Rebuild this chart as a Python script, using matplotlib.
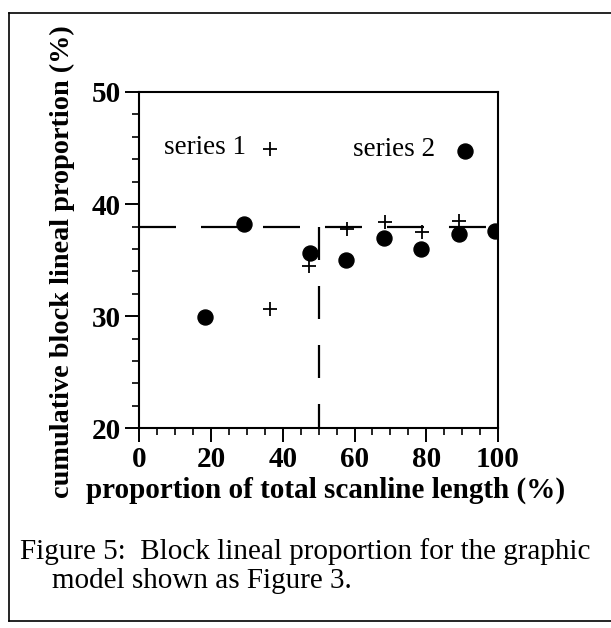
import matplotlib
matplotlib.use("Agg")
import matplotlib.pyplot as plt
from matplotlib.lines import Line2D

# data
s1_x = [36.5, 47.2, 57.9, 68.5, 78.9, 89.1]
s1_y = [30.6, 34.5, 37.8, 38.4, 37.5, 38.5]
s2_x = [18.4, 29.1, 47.5, 57.6, 68.2, 78.4, 89.1, 99.3]
s2_y = [29.9, 38.2, 35.6, 35.0, 37.0, 36.0, 37.3, 37.6]
ref_level = 38
ref_x = 50
x_ticks = [0, 20, 40, 60, 80, 100]
y_ticks = [20, 30, 40, 50]
legend_keys = [("series 1", 36.3, 44.9, "+"), ("series 2", 90.9, 44.7, "o")]

W, H = 611, 628
fig = plt.figure(figsize=(W/100, H/100), dpi=100)
serif = "Liberation Serif"

L, R, T, B = 139.3, 498.0, 92.0, 428.3
ax = fig.add_axes([L/W, 1 - B/H, (R-L)/W, (B-T)/H])
ax.set_xlim(0, 100)
ax.set_ylim(20, 50)

# dashed reference lines
lw = 1.6
ax.plot([0, 100], [ref_level, ref_level], color="black", lw=lw,
        linestyle=(0, (37/1.389/lw, 25/1.389/lw)), zorder=2)
ax.plot([ref_x, ref_x], [ref_level, 20], color="black", lw=lw,
        linestyle=(0, (33/1.389/lw, 26/1.389/lw)), zorder=2)

ax.plot(s1_x, s1_y, linestyle="none", marker="+", ms=10, mew=1.3, color="black", zorder=3)
ax.plot(s2_x, s2_y, linestyle="none", marker="o", ms=10.8, color="black", zorder=3)

for label, lx, ly, m in legend_keys:
    if m == "+":
        ax.plot([lx], [ly], linestyle="none", marker="+", ms=10, mew=1.3, color="black")
    else:
        ax.plot([lx], [ly], linestyle="none", marker="o", ms=10.8, color="black")
    ax.annotate(label, xy=(lx, ly), xytext=(-24 if m == "+" else -30, 2),
                textcoords="offset pixels", ha="right", va="center",
                fontsize=19.5, family=serif)

ax.set_xticks(x_ticks)
ax.set_yticks(y_ticks)
ax.set_xticks(range(0, 101, 5), minor=True)
ax.set_yticks(range(20, 51, 2), minor=True)
ax.tick_params(axis="both", which="major", direction="out", length=10, width=1.4)
ax.tick_params(axis="x", which="major", pad=3)
ax.tick_params(axis="y", which="major", pad=3)
ax.tick_params(axis="both", which="minor", direction="out", length=5, width=1.2)
for lab in ax.get_xticklabels() + ax.get_yticklabels():
    lab.set_fontfamily(serif)
    lab.set_fontweight("bold")
    lab.set_fontsize(21)
for s in ax.spines.values():
    s.set_linewidth(1.5)

fig.text(62/W, 1 - 262/H, "cumulative block lineal proportion (%)", rotation=90,
         ha="center", va="center", fontsize=20.3, family=serif, fontweight="bold")
fig.text(326/W, 1 - 490/H, "proportion of total scanline length (%)",
         ha="center", va="center", fontsize=21, family=serif, fontweight="bold")
fig.text(20/W, 1 - 552/H, "Figure 5:  Block lineal proportion for the graphic",
         ha="left", va="center", fontsize=21, family=serif)
fig.text(52/W, 1 - 581/H, "model shown as Figure 3.",
         ha="left", va="center", fontsize=21, family=serif)

# frame around the figure (left, top, bottom)
bx0, by0, by1 = 9, 13, 621
for xs, ys in [([bx0, bx0], [by0, by1]), ([bx0, W], [by0, by0]), ([bx0, W], [by1, by1])]:
    fig.add_artist(Line2D([x / W for x in xs], [1 - y / H for y in ys],
                          transform=fig.transFigure, color="black", lw=1.2))

fig.savefig("out.png", dpi=100)
